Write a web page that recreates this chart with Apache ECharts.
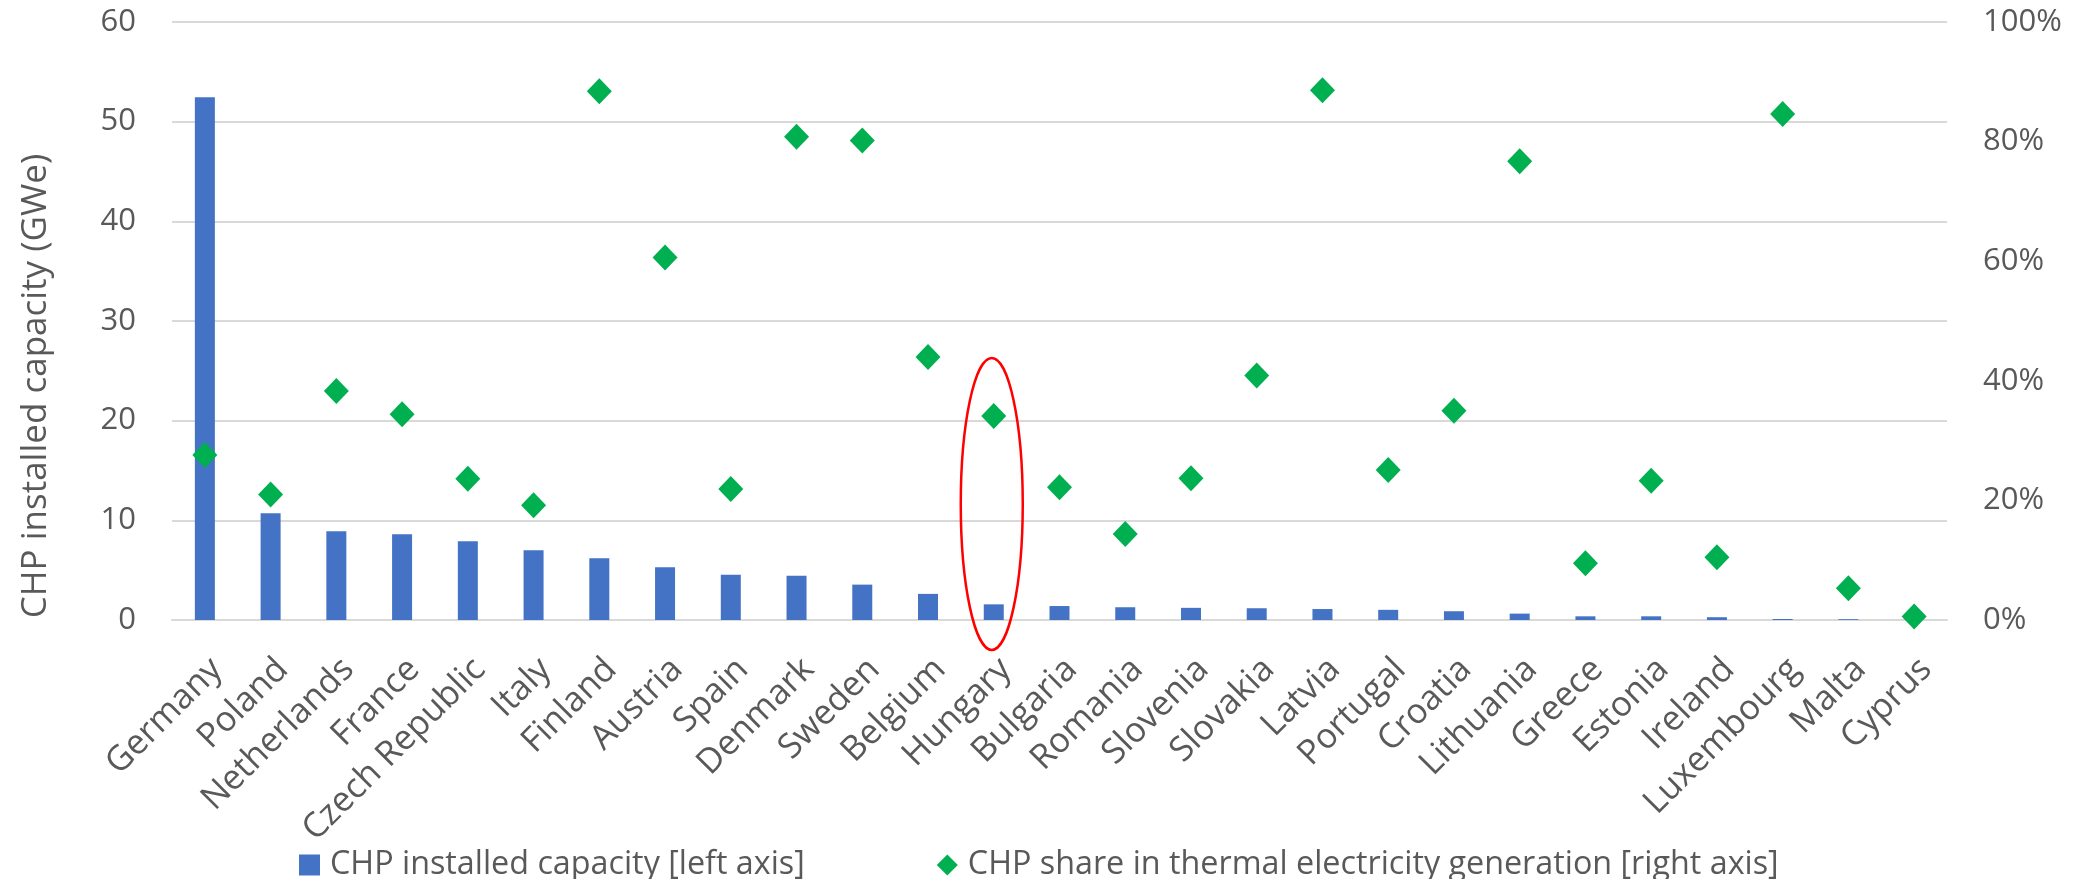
<!DOCTYPE html>
<html>
<head>
<meta charset="utf-8">
<script src="https://cdn.jsdelivr.net/npm/echarts@6/dist/echarts.min.js"></script>
<style>
  html, body { margin: 0; padding: 0; background: #ffffff; }
  #chart { width: 2092px; height: 879px; }
</style>
</head>
<body>
<div id="chart"></div>
<script>
const categories = ['Germany', 'Poland', 'Netherlands', 'France', 'Czech Republic', 'Italy', 'Finland', 'Austria', 'Spain', 'Denmark', 'Sweden', 'Belgium', 'Hungary', 'Bulgaria', 'Romania', 'Slovenia', 'Slovakia', 'Latvia', 'Portugal', 'Croatia', 'Lithuania', 'Greece', 'Estonia', 'Ireland', 'Luxembourg', 'Malta', 'Cyprus'];
const capacityGWe = [52.45, 10.7, 8.9, 8.6, 7.9, 7.0, 6.2, 5.3, 4.55, 4.45, 3.55, 2.62, 1.57, 1.4, 1.28, 1.22, 1.18, 1.1, 1.02, 0.88, 0.64, 0.37, 0.37, 0.28, 0.1, 0.08, 0.02];
const chpShare = [0.276, 0.21, 0.383, 0.344, 0.236, 0.192, 0.884, 0.606, 0.219, 0.808, 0.802, 0.44, 0.341, 0.222, 0.144, 0.237, 0.409, 0.886, 0.251, 0.35, 0.767, 0.095, 0.233, 0.105, 0.846, 0.053, 0.006];
const leftTicks = { min: 0, max: 60, interval: 10 };
const rightTicks = { min: 0, max: 1, interval: 0.2 };
const seriesNames = ['CHP installed capacity [left axis]', 'CHP share in thermal electricity generation [right axis]'];
const leftAxisTitle = 'CHP installed capacity (GWe)';
const highlight = { category: 'Hungary', top: 26.3, bottom: -3.0 };

const FONT = '"Open Sans", "Noto Sans", sans-serif';
const TXT = '#595959';
const chart = echarts.init(document.getElementById('chart'), null, { renderer: 'canvas' });

chart.setOption({
  animation: false,
  backgroundColor: '#ffffff',
  textStyle: { fontFamily: FONT, color: TXT },
  grid: { left: 172, right: 145, top: 22, bottom: 259, containLabel: false },
  legend: {
    left: 294,
    top: 844,
    itemWidth: 21,
    itemHeight: 21,
    itemGap: 132,
    textStyle: { fontFamily: FONT, fontSize: 32.3, color: TXT, padding: [0, 0, 0, 5] },
    data: [
      { name: seriesNames[0], icon: 'rect' },
      { name: seriesNames[1], icon: 'diamond' }
    ]
  },
  xAxis: {
    type: 'category',
    data: categories,
    axisTick: { show: false },
    axisLine: { show: true, lineStyle: { color: '#d9d9d9', width: 2 } },
    axisLabel: {
      interval: 0,
      rotate: 45,
      margin: 32,
      verticalAlign: 'top',
      lineHeight: 34,
      fontFamily: FONT,
      fontSize: 34.5,
      color: TXT
    }
  },
  yAxis: [
    {
      type: 'value',
      min: leftTicks.min,
      max: leftTicks.max,
      interval: leftTicks.interval,
      axisLine: { show: false },
      axisTick: { show: false },
      splitLine: { show: true, lineStyle: { color: '#d9d9d9', width: 2 } },
      axisLabel: { margin: 36, fontFamily: FONT, fontSize: 31, color: TXT }
    },
    {
      type: 'value',
      min: rightTicks.min,
      max: rightTicks.max,
      interval: rightTicks.interval,
      axisLine: { show: false },
      axisTick: { show: false },
      splitLine: { show: false },
      axisLabel: {
        margin: 36,
        fontFamily: FONT,
        fontSize: 31,
        color: TXT,
        formatter: function (v) { return Math.round(v * 100) + '%'; }
      }
    }
  ],
  series: [
    {
      name: seriesNames[0],
      type: 'bar',
      yAxisIndex: 0,
      barWidth: 20,
      itemStyle: { color: '#4472c4' },
      data: capacityGWe
    },
    {
      name: seriesNames[1],
      type: 'scatter',
      yAxisIndex: 1,
      symbol: 'diamond',
      symbolSize: [25, 26],
      itemStyle: { color: '#00b050', opacity: 1 },
      z: 5,
      data: chpShare
    }
  ]
});

const hx = chart.convertToPixel({ xAxisIndex: 0 }, highlight.category);
const yTop = chart.convertToPixel({ yAxisIndex: 0 }, highlight.top);
const yBot = chart.convertToPixel({ yAxisIndex: 0 }, highlight.bottom);

chart.setOption({
  graphic: [
    {
      type: 'ellipse',
      z: 100,
      shape: { cx: hx - 2, cy: (yTop + yBot) / 2, rx: 31, ry: (yBot - yTop) / 2 },
      style: { fill: null, stroke: '#ff0000', lineWidth: 2.5 }
    },
    {
      type: 'text',
      z: 100,
      x: 36,
      y: 386,
      rotation: Math.PI / 2,
      style: {
        text: leftAxisTitle,
        fontFamily: FONT,
        fontSize: 35,
        fill: TXT,
        align: 'center',
        verticalAlign: 'middle'
      }
    }
  ]
});
</script>
</body>
</html>
